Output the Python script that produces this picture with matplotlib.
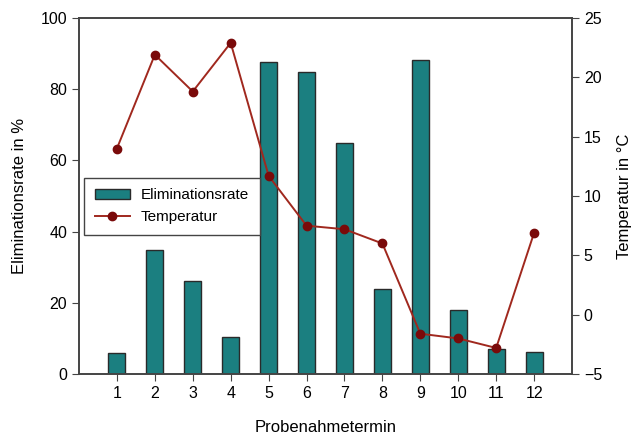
import numpy as np
import matplotlib.pyplot as plt

plt.rcParams['font.family'] = ['Liberation Sans', 'DejaVu Sans']

# Daten
termine = np.arange(1, 13)
elimination = [6.0, 34.9, 26.0, 10.5, 87.6, 84.9, 64.9, 23.8, 88.1, 18.0, 6.9, 6.1]
temperatur = [14.0, 21.9, 18.8, 22.9, 11.7, 7.5, 7.2, 6.0, -1.6, -2.0, -2.8, 6.9]

fig = plt.figure(figsize=(6.37, 4.37), dpi=100)
ax = fig.add_axes([0.124, 0.144, 0.774, 0.815])

bars = ax.bar(termine, elimination, width=0.45, color='#1b7f80',
              edgecolor='#2a2a2a', linewidth=1.0, label='Eliminationsrate', zorder=2)
ax.set_xlim(0, 13)
ax.set_ylim(0, 100)
ax.set_xticks(termine)
ax.set_yticks([0, 20, 40, 60, 80, 100])
ax.set_xlabel('Probenahmetermin', fontsize=12, labelpad=14)
ax.set_ylabel('Eliminationsrate in %', fontsize=12, labelpad=10)
ax.tick_params(labelsize=11.5, direction='out', length=5, color='#444444')

ax2 = ax.twinx()
line, = ax2.plot(termine, temperatur, color='#a0281e', linewidth=1.4,
                 marker='o', markersize=6, markerfacecolor='#7a0a0a',
                 markeredgecolor='#7a0a0a', label='Temperatur', zorder=3)
ax2.set_ylim(-5, 25)
ax2.set_yticks([-5, 0, 5, 10, 15, 20, 25])
ax2.set_ylabel('Temperatur in °C', fontsize=12, labelpad=11)
ax2.tick_params(labelsize=11.5, direction='out', length=5, color='#444444')

for a in (ax, ax2):
    for s in a.spines.values():
        s.set_color('#444444')
        s.set_linewidth(1.2)

leg = ax2.legend([bars, line], ['Eliminationsrate', 'Temperatur'],
                 loc='lower left', bbox_to_anchor=(-0.005, 0.37), fontsize=11,
                 frameon=True, fancybox=False, edgecolor='#444444',
                 borderpad=0.7, handlelength=2.3, handletextpad=0.7,
                 framealpha=1)
leg.get_frame().set_linewidth(1.0)

fig.savefig('out.png', dpi=100)
